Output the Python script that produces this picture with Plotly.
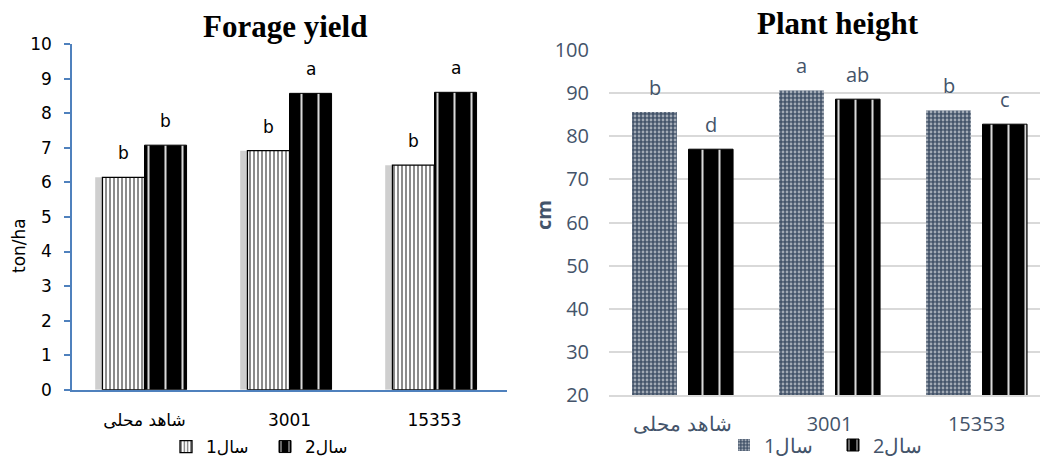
import plotly.graph_objects as go

# ---------------- data ----------------
categories = ["شاهد محلی", "3001", "15353"]
series_names = ["سال1", "سال2"]

yield_year1 = [6.15, 6.92, 6.50]
yield_year2 = [7.08, 8.58, 8.61]
yield_letters_year1 = ["b", "b", "b"]
yield_letters_year2 = ["b", "a", "a"]

height_year1 = [85.6, 90.6, 86.0]
height_year2 = [77.0, 88.6, 82.8]
height_letters_year1 = ["b", "a", "b"]
height_letters_year2 = ["d", "ab", "c"]

yield_ticks = list(range(0, 11))
height_ticks = list(range(20, 101, 10))

# ---------------- styles ----------------
W, H = 1040, 461
AX_BLUE = "#4f81bd"
SLATE = "#44546a"
GRID = "#d9d9d9"
LEFT_FONT = "DejaVu Sans"
RIGHT_FONT = "Open Sans"

fig = go.Figure()

# ---- left chart: Forage yield ----
fig.add_trace(go.Bar(
    x=categories, y=yield_year1, width=0.29, offset=-0.34,
    marker=dict(color="#cfcfcf", line=dict(width=0)),
    showlegend=False, hoverinfo="skip", xaxis="x", yaxis="y"))
fig.add_trace(go.Bar(
    name=series_names[0], x=categories, y=yield_year1, width=0.29, offset=-0.29,
    marker=dict(color="white", line=dict(color="black", width=1.3),
                pattern=dict(shape="|", fgcolor="black", bgcolor="white",
                             size=4, solidity=0.45)),
    xaxis="x", yaxis="y", legend="legend"))
fig.add_trace(go.Bar(
    name=series_names[1], x=categories, y=yield_year2, width=0.29, offset=0.0,
    marker=dict(color="black", line=dict(color="black", width=1),
                pattern=dict(shape="|", fgcolor="white", bgcolor="black",
                             size=17, solidity=0.12, fgopacity=0.85)),
    xaxis="x", yaxis="y", legend="legend"))

# ---- right chart: Plant height ----
fig.add_trace(go.Bar(
    name=series_names[0], x=categories, y=height_year1, width=0.305, offset=-0.343,
    marker=dict(color=SLATE, line=dict(width=0),
                pattern=dict(shape=".", fgcolor="white", bgcolor=SLATE,
                             size=4, solidity=0.38)),
    xaxis="x2", yaxis="y2", legend="legend2"))
fig.add_trace(go.Bar(
    name=series_names[1], x=categories, y=height_year2, width=0.303, offset=0.041,
    marker=dict(color="black", line=dict(color="black", width=1),
                pattern=dict(shape="|", fgcolor="white", bgcolor="black",
                             size=17, solidity=0.12, fgopacity=0.85)),
    xaxis="x2", yaxis="y2", legend="legend2"))

annotations = []
for i, (v, t) in enumerate(zip(yield_year1, yield_letters_year1)):
    annotations.append(dict(x=i, y=v, xref="x", yref="y", text=t, showarrow=False,
                            xshift=-21, yshift=24, yanchor="middle",
                            font=dict(family=LEFT_FONT, size=17, color="black")))
for i, (v, t) in enumerate(zip(yield_year2, yield_letters_year2)):
    annotations.append(dict(x=i, y=v, xref="x", yref="y", text=t, showarrow=False,
                            xshift=21, yshift=24, yanchor="middle",
                            font=dict(family=LEFT_FONT, size=17, color="black")))
for i, (v, t) in enumerate(zip(height_year1, height_letters_year1)):
    annotations.append(dict(x=i, y=v, xref="x2", yref="y2", text=t, showarrow=False,
                            xshift=-28, yshift=25, yanchor="middle",
                            font=dict(family=RIGHT_FONT, size=20, color=SLATE)))
for i, (v, t) in enumerate(zip(height_year2, height_letters_year2)):
    annotations.append(dict(x=i, y=v, xref="x2", yref="y2", text=t, showarrow=False,
                            xshift=28, yshift=25, yanchor="middle",
                            font=dict(family=RIGHT_FONT, size=20, color=SLATE)))

# chart titles
annotations.append(dict(x=285 / W, y=1 - 27 / H, xref="paper", yref="paper",
                        text="<b>Forage yield</b>", showarrow=False,
                        xanchor="center", yanchor="middle",
                        font=dict(family="Liberation Serif", size=31, color="black")))
annotations.append(dict(x=838 / W, y=1 - 24 / H, xref="paper", yref="paper",
                        text="<b>Plant height</b>", showarrow=False,
                        xanchor="center", yanchor="middle",
                        font=dict(family="Liberation Serif", size=31, color="black")))
# axis titles
annotations.append(dict(x=19 / W, y=1 - 246 / H, xref="paper", yref="paper",
                        text="ton/ha", showarrow=False, textangle=-90,
                        xanchor="center", yanchor="middle",
                        font=dict(family=LEFT_FONT, size=17, color="black")))
annotations.append(dict(x=544 / W, y=1 - 215 / H, xref="paper", yref="paper",
                        text="<b>cm</b>", showarrow=False, textangle=-90,
                        xanchor="center", yanchor="middle",
                        font=dict(family=RIGHT_FONT, size=20, color=SLATE)))

fig.update_layout(
    width=W, height=H,
    margin=dict(l=0, r=0, t=0, b=0, autoexpand=False),
    paper_bgcolor="white", plot_bgcolor="white",
    barmode="overlay",
    annotations=annotations,
    xaxis=dict(domain=[72 / W, 507 / W], type="category", range=[-0.5, 2.5],
               anchor="y", showline=True, linecolor=AX_BLUE, linewidth=1.5,
               ticks="", showgrid=False, zeroline=False, ticklabelstandoff=14,
               tickfont=dict(family=LEFT_FONT, size=17, color="black")),
    yaxis=dict(domain=[1 - 389.7 / H, 1 - 44.3 / H], range=[0, 10],
               tickvals=yield_ticks, anchor="x",
               showline=True, linecolor=AX_BLUE, linewidth=1.5,
               ticks="outside", ticklen=6, tickcolor=AX_BLUE, tickwidth=1.5,
               showgrid=False, zeroline=False, ticklabelstandoff=9,
               tickfont=dict(family=LEFT_FONT, size=17, color="black")),
    xaxis2=dict(domain=[609 / W, 1.0], type="category", range=[-0.5, 2.432],
                anchor="y2", showline=True, linecolor=GRID, linewidth=1.5,
                ticks="", showgrid=False, zeroline=False, ticklabelstandoff=10,
                tickfont=dict(family=RIGHT_FONT, size=20, color=SLATE)),
    yaxis2=dict(domain=[1 - 395 / H, 1 - 50 / H], range=[20, 100],
                tickvals=height_ticks, anchor="x2",
                showline=False, showgrid=True, gridcolor=GRID, gridwidth=1.5,
                zeroline=False, ticks="", ticklabelstandoff=19,
                tickfont=dict(family=RIGHT_FONT, size=20, color=SLATE)),
    legend=dict(orientation="h", x=166 / W, xanchor="left", y=1 - 447 / H,
                yanchor="middle", entrywidth=54, bgcolor="rgba(0,0,0,0)",
                font=dict(family=LEFT_FONT, size=17, color="black")),
    legend2=dict(orientation="h", x=724 / W, xanchor="left", y=1 - 445 / H,
                 yanchor="middle", entrywidth=64, bgcolor="rgba(0,0,0,0)",
                 font=dict(family=RIGHT_FONT, size=20, color=SLATE)),
)

fig.write_html("out.html", config={"displayModeBar": False},
               post_script="document.body.style.margin='0';")
